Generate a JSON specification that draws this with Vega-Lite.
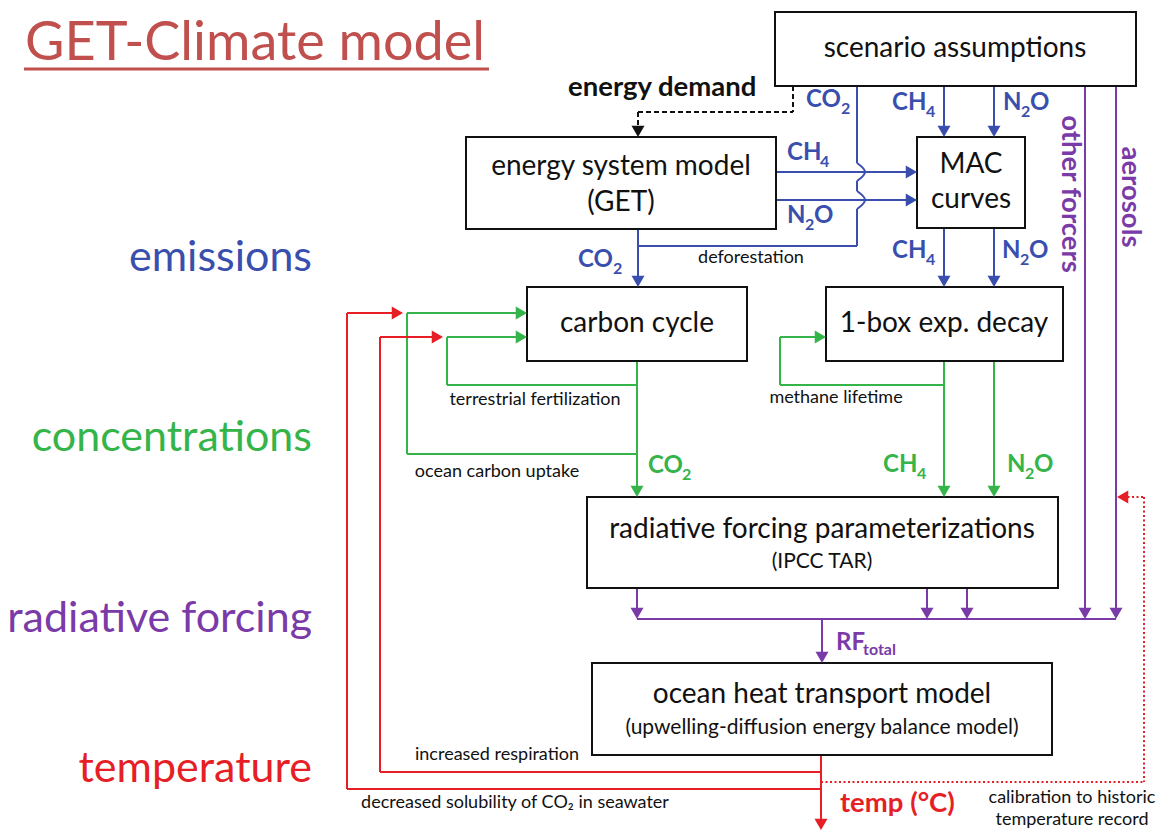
{
  "$schema": "https://vega.github.io/schema/vega-lite/v6.json",
  "width": 1163,
  "height": 830,
  "padding": 0,
  "autosize": {"type": "none"},
  "background": "white",
  "config": {"view": {"stroke": null}, "font": "Lato"},
  "datasets": {
    "boxes": [
      {"box": "scenario assumptions", "x": 775, "x2": 1136, "y": 12, "y2": 86},
      {"box": "energy system model", "x": 466, "x2": 776, "y": 137, "y2": 229},
      {"box": "MAC curves", "x": 917, "x2": 1025, "y": 137, "y2": 228},
      {"box": "carbon cycle", "x": 527, "x2": 747, "y": 287, "y2": 361},
      {"box": "1-box exp. decay", "x": 826, "x2": 1063, "y": 287, "y2": 361},
      {"box": "radiative forcing", "x": 587, "x2": 1058, "y": 497, "y2": 588},
      {"box": "ocean heat transport", "x": 592, "x2": 1052, "y": 663, "y2": 755}
    ],
    "links": [
      {"x": 857, "y": 86, "x2": 857, "y2": 163, "g": "emis", "s": "solid"},
      {"x": 857, "y": 181, "x2": 857, "y2": 191, "g": "emis", "s": "solid"},
      {"x": 857, "y": 209, "x2": 857, "y2": 246, "g": "emis", "s": "solid"},
      {"x": 638, "y": 246, "x2": 857, "y2": 246, "g": "emis", "s": "solid"},
      {"x": 638, "y": 229, "x2": 638, "y2": 281, "g": "emis", "s": "solid"},
      {"x": 776, "y": 172, "x2": 911, "y2": 172, "g": "emis", "s": "solid"},
      {"x": 776, "y": 200, "x2": 911, "y2": 200, "g": "emis", "s": "solid"},
      {"x": 944, "y": 86, "x2": 944, "y2": 131, "g": "emis", "s": "solid"},
      {"x": 994, "y": 86, "x2": 994, "y2": 131, "g": "emis", "s": "solid"},
      {"x": 944, "y": 228, "x2": 944, "y2": 281, "g": "emis", "s": "solid"},
      {"x": 994, "y": 228, "x2": 994, "y2": 281, "g": "emis", "s": "solid"},
      {"x": 793, "y": 86, "x2": 793, "y2": 112, "g": "black", "s": "dashed"},
      {"x": 638, "y": 112, "x2": 793, "y2": 112, "g": "black", "s": "dashed"},
      {"x": 638, "y": 112, "x2": 638, "y2": 130, "g": "black", "s": "dashed"},
      {"x": 637, "y": 361, "x2": 637, "y2": 491, "g": "conc", "s": "solid"},
      {"x": 447, "y": 385, "x2": 637, "y2": 385, "g": "conc", "s": "solid"},
      {"x": 447, "y": 337, "x2": 447, "y2": 385, "g": "conc", "s": "solid"},
      {"x": 447, "y": 337, "x2": 521, "y2": 337, "g": "conc", "s": "solid"},
      {"x": 407, "y": 454, "x2": 637, "y2": 454, "g": "conc", "s": "solid"},
      {"x": 407, "y": 313, "x2": 407, "y2": 454, "g": "conc", "s": "solid"},
      {"x": 407, "y": 313, "x2": 521, "y2": 313, "g": "conc", "s": "solid"},
      {"x": 944, "y": 361, "x2": 944, "y2": 491, "g": "conc", "s": "solid"},
      {"x": 994, "y": 361, "x2": 994, "y2": 491, "g": "conc", "s": "solid"},
      {"x": 780, "y": 385, "x2": 944, "y2": 385, "g": "conc", "s": "solid"},
      {"x": 780, "y": 337, "x2": 780, "y2": 385, "g": "conc", "s": "solid"},
      {"x": 780, "y": 337, "x2": 820, "y2": 337, "g": "conc", "s": "solid"},
      {"x": 637, "y": 588, "x2": 637, "y2": 613, "g": "forc", "s": "solid"},
      {"x": 927, "y": 588, "x2": 927, "y2": 613, "g": "forc", "s": "solid"},
      {"x": 967, "y": 588, "x2": 967, "y2": 613, "g": "forc", "s": "solid"},
      {"x": 1085, "y": 86, "x2": 1085, "y2": 613, "g": "forc", "s": "solid"},
      {"x": 1116, "y": 86, "x2": 1116, "y2": 613, "g": "forc", "s": "solid"},
      {"x": 637, "y": 619, "x2": 1116, "y2": 619, "g": "forc", "s": "solid"},
      {"x": 822, "y": 619, "x2": 822, "y2": 657, "g": "forc", "s": "solid"},
      {"x": 821, "y": 755, "x2": 821, "y2": 824, "g": "temp", "s": "solid"},
      {"x": 380, "y": 772, "x2": 821, "y2": 772, "g": "temp", "s": "solid"},
      {"x": 380, "y": 337, "x2": 380, "y2": 772, "g": "temp", "s": "solid"},
      {"x": 380, "y": 337, "x2": 437, "y2": 337, "g": "temp", "s": "solid"},
      {"x": 347, "y": 789, "x2": 821, "y2": 789, "g": "temp", "s": "solid"},
      {"x": 347, "y": 313, "x2": 347, "y2": 789, "g": "temp", "s": "solid"},
      {"x": 347, "y": 313, "x2": 397, "y2": 313, "g": "temp", "s": "solid"},
      {"x": 821, "y": 782, "x2": 1144, "y2": 782, "g": "temp", "s": "dotted"},
      {"x": 1144, "y": 497, "x2": 1144, "y2": 782, "g": "temp", "s": "dotted"},
      {"x": 1123, "y": 497, "x2": 1144, "y2": 497, "g": "temp", "s": "dotted"},
      {"x": 24, "y": 69, "x2": 489, "y2": 69, "g": "title", "s": "underline"}
    ],
    "humps": [
      {"seg": "upper", "o": 1, "x": 857, "y": 163, "g": "emis"},
      {"seg": "upper", "o": 2, "x": 869, "y": 172, "g": "emis"},
      {"seg": "upper", "o": 3, "x": 857, "y": 181, "g": "emis"},
      {"seg": "lower", "o": 1, "x": 857, "y": 191, "g": "emis"},
      {"seg": "lower", "o": 2, "x": 869, "y": 200, "g": "emis"},
      {"seg": "lower", "o": 3, "x": 857, "y": 209, "g": "emis"}
    ],
    "heads": [
      {"x": 638, "y": 281.4, "dir": "down", "g": "emis"},
      {"x": 911.4, "y": 172, "dir": "right", "g": "emis"},
      {"x": 911.4, "y": 200, "dir": "right", "g": "emis"},
      {"x": 944, "y": 131.4, "dir": "down", "g": "emis"},
      {"x": 994, "y": 131.4, "dir": "down", "g": "emis"},
      {"x": 944, "y": 281.4, "dir": "down", "g": "emis"},
      {"x": 994, "y": 281.4, "dir": "down", "g": "emis"},
      {"x": 638, "y": 131.4, "dir": "down", "g": "black"},
      {"x": 637, "y": 491.4, "dir": "down", "g": "conc"},
      {"x": 521.4, "y": 337, "dir": "right", "g": "conc"},
      {"x": 521.4, "y": 313, "dir": "right", "g": "conc"},
      {"x": 944, "y": 491.4, "dir": "down", "g": "conc"},
      {"x": 994, "y": 491.4, "dir": "down", "g": "conc"},
      {"x": 820.4, "y": 337, "dir": "right", "g": "conc"},
      {"x": 637, "y": 613.4, "dir": "down", "g": "forc"},
      {"x": 927, "y": 613.4, "dir": "down", "g": "forc"},
      {"x": 967, "y": 613.4, "dir": "down", "g": "forc"},
      {"x": 1085, "y": 613.4, "dir": "down", "g": "forc"},
      {"x": 1116, "y": 613.4, "dir": "down", "g": "forc"},
      {"x": 822, "y": 657.4, "dir": "down", "g": "forc"},
      {"x": 821, "y": 824.4, "dir": "down", "g": "temp"},
      {"x": 437.4, "y": 337, "dir": "right", "g": "temp"},
      {"x": 397.4, "y": 313, "dir": "right", "g": "temp"},
      {"x": 1122.6, "y": 497, "dir": "left", "g": "temp"}
    ],
    "labels": [
      {"t": "GET-Climate model", "x": 25, "y": 60, "g": "title", "k": "title"},
      {"t": "emissions", "x": 312, "y": 271, "g": "emis", "k": "stage"},
      {"t": "concentrations", "x": 312, "y": 451, "g": "conc", "k": "stage"},
      {"t": "radiative forcing", "x": 312, "y": 632, "g": "forc", "k": "stage"},
      {"t": "temperature", "x": 312, "y": 782, "g": "temp", "k": "stage"},
      {"t": "scenario assumptions", "x": 955, "y": 49, "g": "black", "k": "box"},
      {"t": "energy system model", "x": 621, "y": 167, "g": "black", "k": "box"},
      {"t": "(GET)", "x": 621, "y": 203, "g": "black", "k": "box"},
      {"t": "MAC", "x": 971, "y": 165, "g": "black", "k": "box"},
      {"t": "curves", "x": 971, "y": 200, "g": "black", "k": "box"},
      {"t": "carbon cycle", "x": 637, "y": 324, "g": "black", "k": "box"},
      {"t": "1-box exp. decay", "x": 944, "y": 324, "g": "black", "k": "box"},
      {"t": "radiative forcing parameterizations", "x": 822, "y": 530, "g": "black", "k": "box"},
      {"t": "ocean heat transport model", "x": 822, "y": 695, "g": "black", "k": "box"},
      {"t": "(IPCC TAR)", "x": 822, "y": 562, "g": "black", "k": "boxsub"},
      {"t": "(upwelling-diffusion energy balance model)", "x": 822, "y": 728, "g": "black", "k": "boxsub"},
      {"t": "deforestation", "x": 751, "y": 258, "g": "black", "k": "note"},
      {"t": "terrestrial fertilization", "x": 535, "y": 400, "g": "black", "k": "note"},
      {"t": "ocean carbon uptake", "x": 497, "y": 472, "g": "black", "k": "note"},
      {"t": "methane lifetime", "x": 836, "y": 398, "g": "black", "k": "note"},
      {"t": "increased respiration", "x": 497, "y": 755, "g": "black", "k": "note"},
      {"t": "decreased solubility of CO₂ in seawater", "x": 515, "y": 803, "g": "black", "k": "note"},
      {"t": "calibration to historic", "x": 1072, "y": 798, "g": "black", "k": "note"},
      {"t": "temperature record", "x": 1072, "y": 820, "g": "black", "k": "note"},
      {"t": "energy demand", "x": 568, "y": 96, "g": "black", "k": "big"},
      {"t": "temp (°C)", "x": 840, "y": 812, "g": "temp", "k": "big"},
      {"t": "CO", "x": 806, "y": 107, "g": "emis", "k": "gas"},
      {"t": "2", "x": 841, "y": 114, "g": "emis", "k": "sub"},
      {"t": "CH", "x": 787, "y": 160, "g": "emis", "k": "gas"},
      {"t": "4", "x": 820, "y": 167, "g": "emis", "k": "sub"},
      {"t": "N", "x": 787, "y": 223, "g": "emis", "k": "gas"},
      {"t": "2", "x": 805, "y": 230, "g": "emis", "k": "sub"},
      {"t": "O", "x": 814, "y": 223, "g": "emis", "k": "gas"},
      {"t": "CO", "x": 578, "y": 267, "g": "emis", "k": "gas"},
      {"t": "2", "x": 613, "y": 274, "g": "emis", "k": "sub"},
      {"t": "CH", "x": 892, "y": 110, "g": "emis", "k": "gas"},
      {"t": "4", "x": 926, "y": 117, "g": "emis", "k": "sub"},
      {"t": "N", "x": 1003, "y": 110, "g": "emis", "k": "gas"},
      {"t": "2", "x": 1021, "y": 117, "g": "emis", "k": "sub"},
      {"t": "O", "x": 1030, "y": 110, "g": "emis", "k": "gas"},
      {"t": "CH", "x": 892, "y": 258, "g": "emis", "k": "gas"},
      {"t": "4", "x": 926, "y": 265, "g": "emis", "k": "sub"},
      {"t": "N", "x": 1002, "y": 258, "g": "emis", "k": "gas"},
      {"t": "2", "x": 1020, "y": 265, "g": "emis", "k": "sub"},
      {"t": "O", "x": 1029, "y": 258, "g": "emis", "k": "gas"},
      {"t": "CO", "x": 648, "y": 473, "g": "conc", "k": "gas"},
      {"t": "2", "x": 682, "y": 480, "g": "conc", "k": "sub"},
      {"t": "CH", "x": 883, "y": 472, "g": "conc", "k": "gas"},
      {"t": "4", "x": 917, "y": 479, "g": "conc", "k": "sub"},
      {"t": "N", "x": 1007, "y": 472, "g": "conc", "k": "gas"},
      {"t": "2", "x": 1025, "y": 479, "g": "conc", "k": "sub"},
      {"t": "O", "x": 1034, "y": 472, "g": "conc", "k": "gas"},
      {"t": "RF", "x": 836, "y": 650, "g": "forc", "k": "gas"},
      {"t": "total", "x": 863, "y": 655, "g": "forc", "k": "sub"},
      {"t": "other forcers", "x": 1070, "y": 194, "g": "forc", "k": "vert"},
      {"t": "aerosols", "x": 1130, "y": 197, "g": "forc", "k": "vert"}
    ]
  },
  "encoding": {
    "x": {"field": "x", "type": "quantitative", "scale": {"domain": [0, 1163], "nice": false, "zero": false}, "axis": null},
    "y": {"field": "y", "type": "quantitative", "scale": {"domain": [0, 830], "nice": false, "zero": false, "reverse": true}, "axis": null},
    "color": {"field": "g", "type": "nominal", "legend": null,
      "scale": {"domain": ["emis", "conc", "forc", "temp", "black", "title"],
                "range": ["#3a4fad", "#35b44a", "#7a3aa8", "#e61e26", "#111111", "#c0504d"]}}
  },
  "layer": [
    {
      "data": {"name": "links"},
      "transform": [{"filter": "datum.s === 'solid'"}],
      "mark": {"type": "rule", "strokeWidth": 2},
      "encoding": {"x2": {"field": "x2"}, "y2": {"field": "y2"}}
    },
    {
      "data": {"name": "links"},
      "transform": [{"filter": "datum.s === 'dashed'"}],
      "mark": {"type": "rule", "strokeWidth": 2, "strokeDash": [5, 3]},
      "encoding": {"x2": {"field": "x2"}, "y2": {"field": "y2"}}
    },
    {
      "data": {"name": "links"},
      "transform": [{"filter": "datum.s === 'dotted'"}],
      "mark": {"type": "rule", "strokeWidth": 2, "strokeDash": [2, 2.5]},
      "encoding": {"x2": {"field": "x2"}, "y2": {"field": "y2"}}
    },
    {
      "data": {"name": "links"},
      "transform": [{"filter": "datum.s === 'underline'"}],
      "mark": {"type": "rule", "strokeWidth": 3},
      "encoding": {"x2": {"field": "x2"}, "y2": {"field": "y2"}}
    },
    {
      "data": {"name": "humps"},
      "mark": {"type": "line", "interpolate": "basis", "strokeWidth": 2},
      "encoding": {"detail": {"field": "seg"}, "order": {"field": "o", "type": "quantitative"}}
    },
    {
      "data": {"name": "boxes"},
      "mark": {"type": "rect", "fill": "white", "stroke": "#111111", "strokeWidth": 2},
      "encoding": {"x2": {"field": "x2"}, "y2": {"field": "y2"}, "color": null}
    },
    {
      "data": {"name": "heads"},
      "mark": {"type": "point", "filled": true, "size": 169, "opacity": 1, "strokeWidth": 0},
      "encoding": {"shape": {"field": "dir", "type": "nominal", "legend": null,
        "scale": {"domain": ["down", "right", "left"], "range": ["triangle-down", "triangle-right", "triangle-left"]}}}
    },
    {
      "data": {"name": "labels"},
      "transform": [{"filter": "datum.k === 'title'"}],
      "mark": {"type": "text", "align": "left", "baseline": "alphabetic", "fontSize": 54, "font": "Lato"},
      "encoding": {"text": {"field": "t"}}
    },
    {
      "data": {"name": "labels"},
      "transform": [{"filter": "datum.k === 'stage'"}],
      "mark": {"type": "text", "align": "right", "baseline": "alphabetic", "fontSize": 43, "font": "Lato"},
      "encoding": {"text": {"field": "t"}}
    },
    {
      "data": {"name": "labels"},
      "transform": [{"filter": "datum.k === 'box'"}],
      "mark": {"type": "text", "align": "center", "baseline": "middle", "fontSize": 28, "font": "Lato"},
      "encoding": {"text": {"field": "t"}}
    },
    {
      "data": {"name": "labels"},
      "transform": [{"filter": "datum.k === 'boxsub'"}],
      "mark": {"type": "text", "align": "center", "baseline": "middle", "fontSize": 21, "font": "Lato"},
      "encoding": {"text": {"field": "t"}}
    },
    {
      "data": {"name": "labels"},
      "transform": [{"filter": "datum.k === 'note'"}],
      "mark": {"type": "text", "align": "center", "baseline": "middle", "fontSize": 18, "font": "Lato"},
      "encoding": {"text": {"field": "t"}}
    },
    {
      "data": {"name": "labels"},
      "transform": [{"filter": "datum.k === 'big'"}],
      "mark": {"type": "text", "align": "left", "baseline": "alphabetic", "fontSize": 27.5, "fontWeight": "bold", "font": "Lato"},
      "encoding": {"text": {"field": "t"}}
    },
    {
      "data": {"name": "labels"},
      "transform": [{"filter": "datum.k === 'gas'"}],
      "mark": {"type": "text", "align": "left", "baseline": "alphabetic", "fontSize": 24, "fontWeight": "bold", "font": "Lato"},
      "encoding": {"text": {"field": "t"}}
    },
    {
      "data": {"name": "labels"},
      "transform": [{"filter": "datum.k === 'sub'"}],
      "mark": {"type": "text", "align": "left", "baseline": "alphabetic", "fontSize": 16, "fontWeight": "bold", "font": "Lato"},
      "encoding": {"text": {"field": "t"}}
    },
    {
      "data": {"name": "labels"},
      "transform": [{"filter": "datum.k === 'vert'"}],
      "mark": {"type": "text", "align": "center", "baseline": "middle", "fontSize": 27.5, "fontWeight": "bold", "angle": 90, "font": "Lato"},
      "encoding": {"text": {"field": "t"}}
    }
  ]
}
